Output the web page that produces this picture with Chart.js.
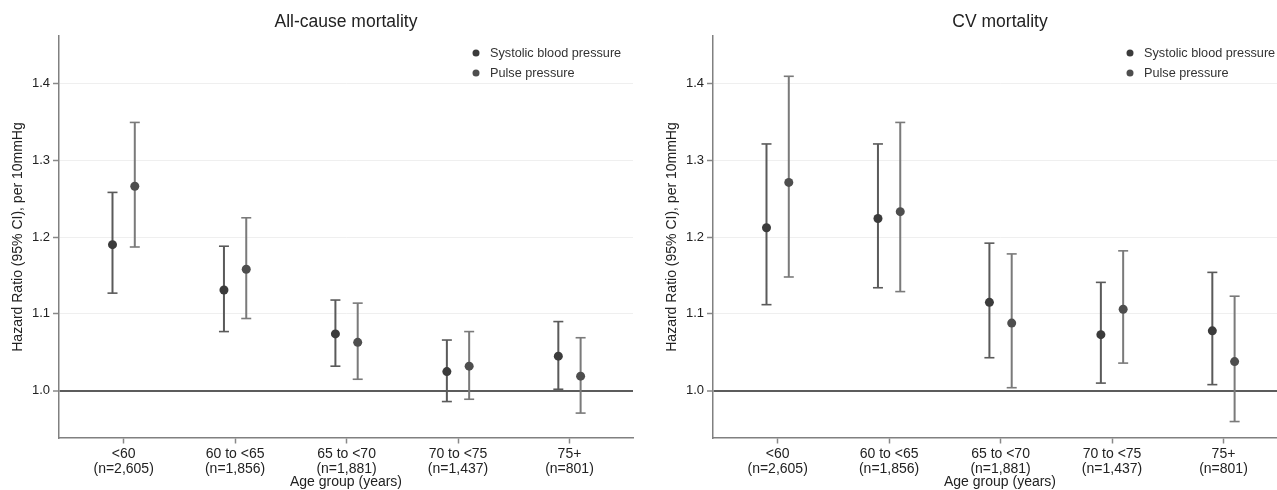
<!DOCTYPE html>
<html lang="en">
<head>
  <meta charset="UTF-8" />
  <title>Hazard ratio per 10mmHg by age group</title>
  <script src="https://cdn.jsdelivr.net/npm/chart.js"></script>
  <style>
    html, body {
      margin: 0;
      background: #fff;
      overflow: hidden;
    }

    .page {
      position: relative;
      width: 1277px;
      height: 490px;
      overflow: hidden;
    }

    .panel {
      position: absolute;
      top: 0;
      width: 640px;
      height: 490px;
    }

    #leftPanel { left: 0; }
    #rightPanel { left: 654px; }
  </style>
</head>
<body>
  <div class="page">
    <div class="panel" id="leftPanel"><canvas id="allCause" width="640" height="490"></canvas></div>
    <div class="panel" id="rightPanel"><canvas id="cvMortality" width="640" height="490"></canvas></div>
  </div>

  <script>
    const ageGroups = ['<60', '60 to <65', '65 to <70', '70 to <75', '75+'];
    const groupSizes = ['(n=2,605)', '(n=1,856)', '(n=1,881)', '(n=1,437)', '(n=801)'];
    const yTicks = [1.0, 1.1, 1.2, 1.3, 1.4];

    // All-cause mortality
    const acSbpHr = [1.190, 1.131, 1.074, 1.025, 1.045];
    const acSbpLo = [1.127, 1.077, 1.032, 0.986, 1.002];
    const acSbpHi = [1.258, 1.188, 1.118, 1.066, 1.090];
    const acPpHr  = [1.266, 1.158, 1.063, 1.032, 1.019];
    const acPpLo  = [1.187, 1.094, 1.015, 0.989, 0.971];
    const acPpHi  = [1.349, 1.225, 1.114, 1.077, 1.069];

    // CV mortality
    const cvSbpHr = [1.212, 1.224, 1.115, 1.073, 1.078];
    const cvSbpLo = [1.112, 1.134, 1.043, 1.010, 1.008];
    const cvSbpHi = [1.321, 1.321, 1.192, 1.141, 1.154];
    const cvPpHr  = [1.271, 1.233, 1.088, 1.106, 1.038];
    const cvPpLo  = [1.148, 1.129, 1.004, 1.036, 0.960];
    const cvPpHi  = [1.409, 1.349, 1.178, 1.182, 1.123];

    const FONT = '"Liberation Sans", Arial, Helvetica, sans-serif';
    const dodge = 0.1;

    Chart.defaults.font.family = FONT;
    Chart.defaults.color = '#222';

    // small legend drawn inside the plot, top right
    const dotLegend = {
      id: 'dotLegend',
      afterDraw(chart) {
        const { ctx, chartArea } = chart;
        ctx.save();
        ctx.font = '12.7px ' + FONT;
        ctx.textBaseline = 'middle';
        chart.data.datasets.filter(d => d.legendDot).forEach((d, i) => {
          const y = chartArea.top + 17 + i * 20;
          ctx.fillStyle = d.pointBackgroundColor;
          ctx.beginPath();
          ctx.arc(chartArea.right - 157, y, 3.5, 0, Math.PI * 2);
          ctx.fill();
          ctx.fillStyle = '#333';
          ctx.fillText(d.label, chartArea.right - 143, y);
        });
        ctx.restore();
      }
    };

    function points(hr, shift) {
      return hr.map((v, i) => ({ x: i + 1 + shift, y: v }));
    }

    // each CI as a segment, null y breaks the line between groups
    function whiskers(lo, hi, shift) {
      return lo.flatMap((v, i) => [
        { x: i + 1 + shift, y: v },
        { x: i + 1 + shift, y: hi[i] },
        { x: i + 1 + shift, y: null }
      ]);
    }

    function drawPanel(id, title, sbpHr, sbpLo, sbpHi, ppHr, ppLo, ppHi) {
      new Chart(document.getElementById(id), {
        type: 'scatter',
        data: {
          datasets: [
            { label: 'Systolic blood pressure', legendDot: true, data: points(sbpHr, -dodge),
              pointBackgroundColor: '#3b3b3b', pointBorderWidth: 0, pointRadius: 4.5 },
            { label: 'Pulse pressure', legendDot: true, data: points(ppHr, dodge),
              pointBackgroundColor: '#4e4e4e', pointBorderWidth: 0, pointRadius: 4.5 },
            { label: 'SBP CI', data: whiskers(sbpLo, sbpHi, -dodge), showLine: true, spanGaps: false,
              borderColor: '#5a5a5a', borderWidth: 2, pointStyle: 'line', pointRadius: 5,
              pointBorderColor: '#5a5a5a', pointBorderWidth: 1.6 },
            { label: 'PP CI', data: whiskers(ppLo, ppHi, dodge), showLine: true, spanGaps: false,
              borderColor: '#7a7a7a', borderWidth: 2, pointStyle: 'line', pointRadius: 5,
              pointBorderColor: '#7a7a7a', pointBorderWidth: 1.6 }
          ]
        },
        options: {
          responsive: false,
          animation: false,
          layout: { padding: { left: 10, right: 7, top: 0, bottom: 0 } },
          plugins: {
            legend: { display: false },
            tooltip: { enabled: false },
            title: {
              display: true,
              text: title,
              fullSize: false,
              color: '#222',
              font: { size: 17.5, weight: 'normal' },
              padding: { top: 12, bottom: 3 }
            }
          },
          scales: {
            x: {
              type: 'linear',
              min: 0.42,
              max: 5.57,
              afterBuildTicks: s => { s.ticks = ageGroups.map((g, i) => ({ value: i + 1 })); },
              afterFit: s => { s.height = 52; },
              ticks: {
                autoSkip: false,
                maxRotation: 0,
                padding: 4,
                color: '#222',
                font: { size: 14, lineHeight: 1.02 },
                callback: (v, i) => [ageGroups[i], groupSizes[i]]
              },
              grid: { drawOnChartArea: false, tickLength: 5.5, tickColor: '#888', tickWidth: 1.5 },
              border: { color: '#808080', width: 1.5 },
              title: {
                display: true,
                text: 'Age group (years)',
                color: '#222',
                font: { size: 14, lineHeight: 1.1 },
                padding: 0
              }
            },
            y: {
              min: 0.9386,
              max: 1.4614,
              afterBuildTicks: s => { s.ticks = yTicks.map(v => ({ value: v })); },
              afterFit: s => { s.width = 49; },
              ticks: {
                padding: 3,
                color: '#222',
                font: { size: 13 },
                callback: v => v.toFixed(1)
              },
              grid: {
                tickLength: 6,
                tickColor: '#888',
                tickWidth: 1.5,
                color: c => (c.tick && c.tick.value === 1 ? '#5c5c5c' : '#efefef'),
                lineWidth: c => (c.tick && c.tick.value === 1 ? 2 : 1)
              },
              border: { color: '#808080', width: 1.5 },
              title: {
                display: true,
                text: 'Hazard Ratio (95% CI), per 10mmHg',
                color: '#222',
                font: { size: 14, lineHeight: 1.2 },
                padding: 0
              }
            }
          }
        },
        plugins: [dotLegend]
      });
    }

    drawPanel('allCause', 'All-cause mortality', acSbpHr, acSbpLo, acSbpHi, acPpHr, acPpLo, acPpHi);
    drawPanel('cvMortality', 'CV mortality', cvSbpHr, cvSbpLo, cvSbpHi, cvPpHr, cvPpLo, cvPpHi);
  </script>
</body>
</html>
